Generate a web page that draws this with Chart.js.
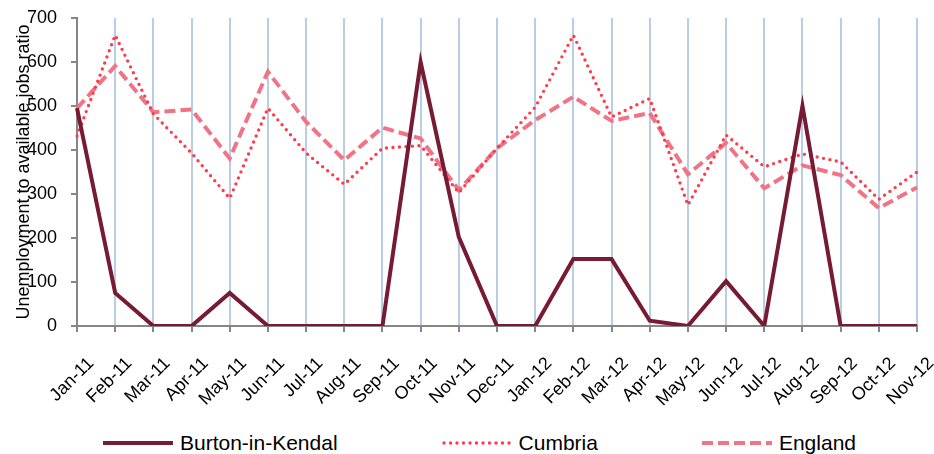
<!DOCTYPE html>
<html>
<head>
<meta charset="utf-8">
<title>Unemployment to available jobs ratio</title>
<script src="https://cdn.jsdelivr.net/npm/chart.js@4/dist/chart.umd.min.js"></script>
<style>
  html, body { margin: 0; padding: 0; background: #fff; }
  .wrap { position: relative; width: 934px; height: 454px; }
  .chart-box { position: absolute; left: 0; top: 0; width: 934px; height: 420px; }
  #legend {
    position: absolute; left: 0; top: 431px; width: 934px; height: 24px;
    display: flex; justify-content: center; align-items: center; gap: 104px;
    padding-left: 25px; box-sizing: border-box;
    font-family: "Liberation Sans", Arial, sans-serif; font-size: 21px; color: #000;
  }
  #legend .item { display: flex; align-items: center; }
  #legend svg { margin-right: 7px; }
</style>
</head>
<body>
<div class="wrap">
  <div class="chart-box"><canvas id="ratioChart"></canvas></div>
  <div id="legend"></div>
</div>
<script>
const months = ["Jan-11", "Feb-11", "Mar-11", "Apr-11", "May-11", "Jun-11", "Jul-11", "Aug-11", "Sep-11", "Oct-11", "Nov-11", "Dec-11",
  "Jan-12", "Feb-12", "Mar-12", "Apr-12", "May-12", "Jun-12", "Jul-12", "Aug-12", "Sep-12", "Oct-12", "Nov-12"]
const burton = [495, 75, 0, 0, 75, 0, 0, 0, 0, 600, 202, 0, 0, 152, 152, 12, 0, 102, 0, 500, 0, 0, 0]
const cumbria = [432, 661, 482, 393, 290, 495, 393, 322, 404, 410, 303, 404, 497, 661, 475, 517, 275, 434, 362, 391, 373, 288, 350]
const england = [495, 591, 486, 492, 381, 578, 464, 377, 451, 426, 309, 404, 468, 521, 466, 484, 345, 416, 313, 365, 343, 268, 315]
const yTicks = [0, 100, 200, 300, 400, 500, 600, 700]

document.addEventListener("DOMContentLoaded", () => {
  Chart.defaults.font.family = '"Liberation Sans", Arial, sans-serif'
  Chart.defaults.color = "#000"

  const ctx = document.getElementById("ratioChart").getContext("2d")
  const chart = new Chart(ctx, {
    type: "line",
    data: {
      labels: months,
      datasets: [
        {
          label: "Burton-in-Kendal",
          data: burton,
          borderColor: "#771B34",
          borderWidth: 4,
          borderJoinStyle: "miter",
          pointRadius: 0,
          tension: 0,
        },
        {
          label: "Cumbria",
          data: cumbria,
          borderColor: "#FF3B4B",
          borderWidth: 3.4,
          borderDash: [0, 6.5],
          borderCapStyle: "round",
          pointRadius: 0,
          tension: 0,
        },
        {
          label: "England",
          data: england,
          borderColor: "#EE7486",
          borderWidth: 4,
          borderDash: [11, 5],
          pointRadius: 0,
          tension: 0,
        },
      ],
    },
    options: {
      responsive: true,
      maintainAspectRatio: false,
      animation: false,
      layout: {
        padding: { top: 18, right: 17, left: 0, bottom: 0 },
      },
      plugins: {
        legend: { display: false },
        tooltip: { enabled: false },
      },
      scales: {
        x: {
          offset: false,
          grid: {
            color: "#B9CDE5",
            lineWidth: 2,
            tickColor: "#868686",
            tickLength: 6,
          },
          border: { color: "#868686", width: 2 },
          ticks: {
            autoSkip: false,
            minRotation: 45,
            maxRotation: 45,
            padding: 21,
            labelOffset: 14,
            font: { size: 18 },
          },
          afterFit: (scale) => {
            // fixed band for the slanted month labels
            scale.height = 94
            scale.paddingLeft = 0
            scale.paddingRight = 0
          },
        },
        y: {
          min: 0,
          max: 700,
          afterBuildTicks: (scale) => {
            scale.ticks = yTicks.map((v) => ({ value: v }))
          },
          grid: {
            drawOnChartArea: false,
            color: "#868686",
            tickLength: 6,
            lineWidth: 2,
          },
          border: { color: "#868686", width: 2 },
          ticks: {
            padding: 14,
            font: { size: 18 },
          },
          title: {
            display: true,
            text: "Unemployment to available jobs ratio",
            font: { size: 18 },
            padding: { top: 13, bottom: 0 },
          },
          afterFit: (scale) => {
            scale.width = 77
            scale.paddingTop = 0
            scale.paddingBottom = 0
          },
        },
      },
    },
  })

  // Legend built from the datasets, with a short line sample per series
  const legend = document.getElementById("legend")
  chart.data.datasets.forEach((ds) => {
    const item = document.createElement("div")
    item.className = "item"
    const dash = ds.borderDash ? ds.borderDash.join(" ") : ""
    const cap = ds.borderCapStyle === "round" ? "round" : "butt"
    item.innerHTML =
      '<svg width="70" height="10"><line x1="' + (cap === "round" ? 2 : 0) + '" y1="5" x2="70" y2="5" stroke="' + ds.borderColor +
      '" stroke-width="' + ds.borderWidth + '" stroke-linecap="' + cap + '"' + (dash ? ' stroke-dasharray="' + dash + '"' : "") + "/></svg>"
    const text = document.createElement("span")
    text.textContent = ds.label
    item.appendChild(text)
    legend.appendChild(item)
  })
})
</script>
</body>
</html>
